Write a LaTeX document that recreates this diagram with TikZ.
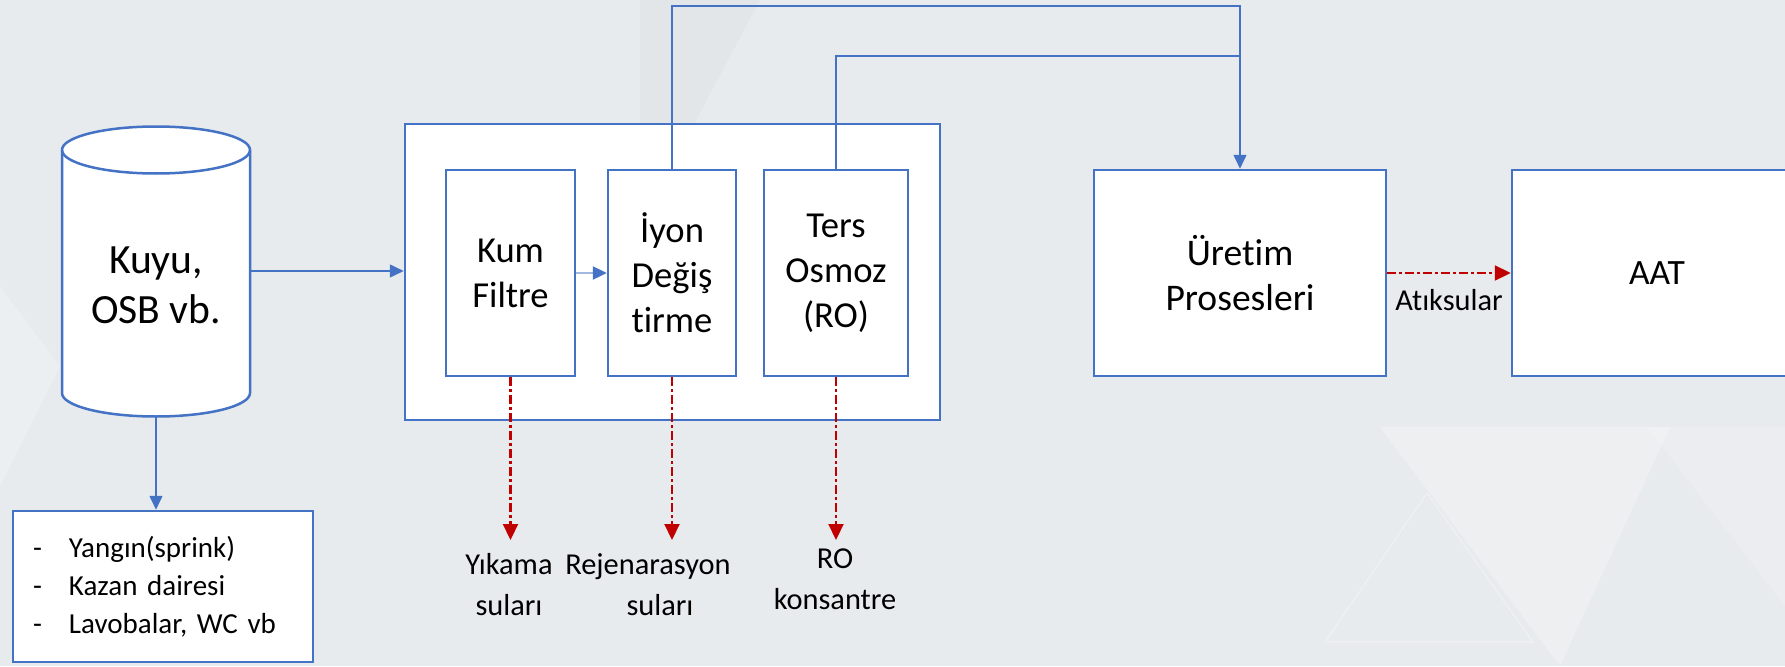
\documentclass[tikz,border=0pt]{standalone}
\usepackage{fontspec}
\setmainfont{Carlito}[Ligatures=NoCommon]
\usetikzlibrary{arrows.meta}
\definecolor{oblue}{HTML}{4472C4}
\definecolor{ored}{HTML}{C00000}
\definecolor{bgc}{HTML}{E8EBEE}
\begin{document}
\begin{tikzpicture}[x=0.5pt,y=0.5pt,
  box/.style={draw=oblue, line width=1.25pt, fill=white, align=center, inner sep=0pt},
  conn/.style={draw=oblue, line width=0.75pt},
  btip/.style={-{Triangle[width=6.5pt,length=7pt]}},
  redarr/.style={draw=ored, line width=1.1pt, dash pattern=on 4.5pt off 1.6pt on 1.3pt off 1.6pt,
    -{Triangle[width=7.5pt,length=8pt,color=ored]}},
  lbl/.style={align=center, font=\fontsize{15.2}{20.5}\selectfont, inner sep=0pt},
  inner/.style={box, minimum height=103pt, font=\fontsize{18.3}{22.5}\selectfont},
]
% background
\fill[bgc] (0,0) rectangle (1785,666);
\useasboundingbox (0,0) rectangle (1785,666);
\clip (0,0) rectangle (1785,666);
\fill[white, opacity=0.22] (1380,239) -- (1670,239) -- (1560,0) -- cycle;
\fill[white, opacity=0.15] (1647,239) -- (1785,239) -- (1785,60) -- cycle;
\draw[white, opacity=0.3, line width=0.6pt] (1427,173) -- (1325,24) -- (1533,24) -- cycle;
\fill[black, opacity=0.02] (640,666) -- (760,666) -- (640,440) -- cycle;
\fill[white, opacity=0.2] (0,380) -- (60,300) -- (0,180) -- cycle;

% cylinder
\node[minimum width=94pt, minimum height=145pt, inner sep=0pt] (cyl) at (156,395) {};
\draw[oblue, line width=1.25pt, fill=white] (62,516) -- (62,273)
  arc[start angle=180, end angle=360, x radius=47pt, y radius=11.75pt] -- (250,516)
  arc[start angle=0, end angle=180, x radius=47pt, y radius=11.75pt] -- cycle;
\draw[oblue, line width=1.25pt] (62,516) arc[start angle=180, end angle=360, x radius=47pt, y radius=11.75pt];
\node[font=\fontsize{20.8}{25}\selectfont, align=center, inner sep=0pt] (cyltxt) at (156,380.5) {Kuyu,\\OSB vb.};

% treatment group
\node[box, minimum width=267.5pt, minimum height=148pt] (outer) at (672.5,394) {};
\node[inner, minimum width=64.5pt] (kum) at (510.5,393) {Kum\\Filtre};
\node[inner, minimum width=64pt] (iyon) at (672,393) {İyon\\Değiş\\tirme};
\node[inner, minimum width=72pt] (ters) at (836,393) {Ters\\Osmoz\\(RO)};

% process and AAT
\node[box, minimum width=146pt, minimum height=103pt, font=\fontsize{18.8}{22.5}\selectfont] (uretim) at (1240,393) {Üretim\\Prosesleri};
\node[box, minimum width=145pt, minimum height=103pt, font=\fontsize{17.8}{22.5}\selectfont] (aat) at (1657,393) {AAT};

% list box
\node[box, minimum width=150pt, minimum height=75.5pt, text width=130pt, align=left, inner xsep=10pt,
  font=\fontsize{14.5}{19}\selectfont] (list) at (163,79.5)
  {\makebox[18pt][l]{-}Yangın(sprink)\\\makebox[18pt][l]{-}Kazan dairesi\\\makebox[18pt][l]{-}Lavobalar, WC vb};

% blue connectors
\draw[conn, btip] (cyl.east) -- (cyl.east -| outer.west);
\draw[conn, btip] (cyl.south) -- (cyl.south |- list.north);
\draw[draw=oblue!50, line width=1.2pt, -{Triangle[width=6.5pt,length=7pt,color=oblue]}] (kum.east) -- (iyon.west);
\coordinate (t1) at (1240,660);
\coordinate (t2) at (1240,610);
\draw[conn, btip] (iyon.north) |- (t1) -- (uretim.north);
\draw[conn] (ters.north) |- (t2);

% red waste arrows
\coordinate (lvl) at (0,126);
\coordinate (e1) at (kum.south |- lvl);
\coordinate (e2) at (iyon.south |- lvl);
\coordinate (e3) at (ters.south |- lvl);
\draw[redarr] (kum.south) -- (e1);
\draw[redarr] (iyon.south) -- (e2);
\draw[redarr] (ters.south) -- (e3);
\draw[redarr] (uretim.east) -- (aat.west);

% labels
\node[lbl] (atik) at (1449,366) {Atıksular};
\node[lbl] (yik) at (509,81) {Yıkama\\suları};
\node[lbl] (rej) at (648,81) {Rejenarasyon\\\hspace*{12pt}suları};
\node[lbl] (rok) at (835,86.5) {RO\\konsantre};
\end{tikzpicture}
\end{document}
